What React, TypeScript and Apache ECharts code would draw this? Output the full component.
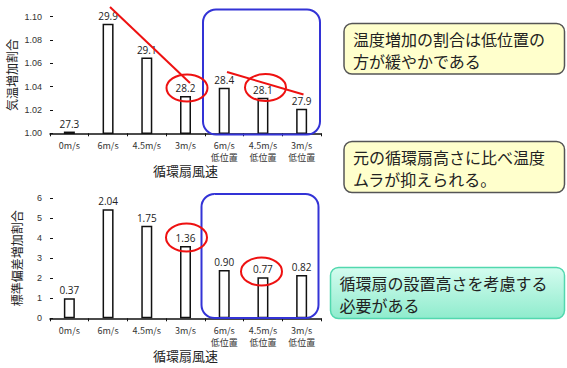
import React, { useEffect, useRef } from "react";
import * as echarts from "echarts";

const categories = ["0m/s", "6m/s", "4.5m/s", "3m/s", "6m/s\n低位置", "4.5m/s\n低位置", "3m/s\n低位置"];
const tempRatio = [1.0015, 1.094, 1.065, 1.032, 1.039, 1.0305, 1.021];
const tempLabels = ["27.3", "29.9", "29.1", "28.2", "28.4", "28.1", "27.9"];
const sdRatio = [1.0, 5.45, 4.63, 3.62, 2.42, 2.05, 2.17];
const sdLabels = ["0.37", "2.04", "1.75", "1.36", "0.90", "0.77", "0.82"];
const topTitle = "気温増加割合";
const bottomTitle = "標準偏差増加割合";
const xTitle = "循環扇風速";
const notes = [
  ["温度増加の割合は低位置の", "方が緩やかである"],
  ["元の循環扇高さに比べ温度", "ムラが抑えられる。"],
  ["循環扇の設置高さを考慮する", "必要がある"],
];

const FONT = "'Noto Sans CJK JP', 'Noto Sans', sans-serif";

export default function App() {
  const ref = useRef<HTMLDivElement>(null);
  useEffect(() => {
    const chart = echarts.init(ref.current!, null, { renderer: "svg" });
    const axisCommon = {
      axisLine: { lineStyle: { color: "#111", width: 1.5 } },
    };
    const xAxisBase = (gridIndex: number, gap: number) => ({
      type: "category",
      gridIndex,
      data: categories,
      name: xTitle,
      nameLocation: "middle",
      nameGap: gap,
      nameTextStyle: { fontSize: 13, color: "#222", fontFamily: FONT },
      axisTick: { show: true, length: 3, lineStyle: { color: "#111" } },
      axisLabel: { fontSize: 9, color: "#333", fontFamily: FONT, lineHeight: 12, margin: 6 },
      ...axisCommon,
    });
    const labelStyle = (arr: string[]) => ({
      show: true,
      position: "top",
      distance: 3,
      fontSize: 10,
      color: "#222",
      fontFamily: "'Open Sans', sans-serif",
      formatter: (p: any) => arr[p.dataIndex],
    });
    const noteBox = (i: number, x: number, y: number, w: number, h: number, fill: any, stroke: string) => ({
      type: "group",
      children: [
        {
          type: "rect",
          shape: { x, y, width: w, height: h, r: 8 },
          style: { fill, stroke, lineWidth: 1.5 },
        },
        {
          type: "text",
          x: x + 9,
          y: y + 4.5,
          style: {
            text: notes[i].join("\n"),
            font: `16px ${FONT}`,
            fill: "#222",
            lineHeight: 22,
          },
        },
      ],
    });
    chart.setOption({
      animation: false,
      grid: [
        { left: 50, top: 16.7, width: 271, height: 116.6 },
        { left: 50, top: 198.3, width: 271, height: 120 },
      ],
      xAxis: [xAxisBase(0, 31), xAxisBase(1, 29)],
      yAxis: [
        {
          type: "value",
          gridIndex: 0,
          min: 1.0,
          max: 1.1,
          interval: 0.02,
          name: topTitle,
          nameLocation: "middle",
          nameGap: 33,
          nameRotate: 90,
          nameTextStyle: { fontSize: 12, color: "#222", fontFamily: FONT },
          splitLine: { show: false },
          axisTick: { show: true, inside: true, length: 3, lineStyle: { color: "#111" } },
          axisLabel: { fontSize: 9, color: "#333", formatter: (v: number) => v.toFixed(2), margin: 8 },
          ...axisCommon,
        },
        {
          type: "value",
          gridIndex: 1,
          min: 0,
          max: 6,
          interval: 1,
          name: bottomTitle,
          nameLocation: "middle",
          nameGap: 28,
          nameRotate: 90,
          nameTextStyle: { fontSize: 12, color: "#222", fontFamily: FONT },
          splitLine: { show: false },
          axisTick: { show: true, inside: true, length: 3, lineStyle: { color: "#111" } },
          axisLabel: { fontSize: 9, color: "#333", margin: 8 },
          ...axisCommon,
        },
      ],
      series: [
        {
          type: "bar",
          xAxisIndex: 0,
          yAxisIndex: 0,
          data: tempRatio,
          barWidth: 11,
          itemStyle: { color: "#fff", borderColor: "#111", borderWidth: 1.5 },
          label: labelStyle(tempLabels),
        },
        {
          type: "bar",
          xAxisIndex: 1,
          yAxisIndex: 1,
          data: sdRatio,
          barWidth: 11,
          itemStyle: { color: "#fff", borderColor: "#111", borderWidth: 1.5 },
          label: labelStyle(sdLabels),
        },
      ],
      graphic: [
        // blue boxes
        { type: "rect", shape: { x: 203, y: 9.5, width: 117, height: 125, r: 13 }, style: { fill: "none", stroke: "#3333d6", lineWidth: 2 }, z: 10 },
        { type: "rect", shape: { x: 201.5, y: 194, width: 117, height: 124, r: 13 }, style: { fill: "none", stroke: "#3333d6", lineWidth: 2 }, z: 10 },
        // red annotations top
        { type: "line", shape: { x1: 110, y1: 7, x2: 190, y2: 83 }, style: { stroke: "#ee1111", lineWidth: 2 }, z: 11 },
        { type: "line", shape: { x1: 227, y1: 72, x2: 303.5, y2: 94.5 }, style: { stroke: "#ee1111", lineWidth: 2 }, z: 11 },
        { type: "ellipse", shape: { cx: 187, cy: 88, rx: 20.5, ry: 13.5 }, style: { fill: "none", stroke: "#ee1111", lineWidth: 2 }, z: 11 },
        { type: "ellipse", shape: { cx: 265.5, cy: 87.5, rx: 20.5, ry: 13.5 }, style: { fill: "none", stroke: "#ee1111", lineWidth: 2 }, z: 11 },
        // red annotations bottom
        { type: "ellipse", shape: { cx: 186.5, cy: 237.5, rx: 20.5, ry: 14 }, style: { fill: "none", stroke: "#ee1111", lineWidth: 2 }, z: 11 },
        { type: "ellipse", shape: { cx: 261.5, cy: 271.5, rx: 20.5, ry: 14 }, style: { fill: "none", stroke: "#ee1111", lineWidth: 2 }, z: 11 },
        // note boxes
        noteBox(0, 344, 23.5, 220.5, 50.5, "#ffffcc", "#555"),
        noteBox(1, 344, 141.5, 220.5, 51, "#ffffcc", "#555"),
        noteBox(
          2,
          330.5,
          267.5,
          234,
          51,
          new echarts.graphic.LinearGradient(0, 0, 0, 1, [
            { offset: 0, color: "#d4fcef" },
            { offset: 1, color: "#8feccd" },
          ]),
          "#52d8ae"
        ),
      ],
    });
    return () => chart.dispose();
  }, []);
  return (
    <div
      ref={ref}
      style={{ position: "fixed", left: 0, top: 0, width: 567, height: 368, background: "#fff" }}
    />
  );
}
